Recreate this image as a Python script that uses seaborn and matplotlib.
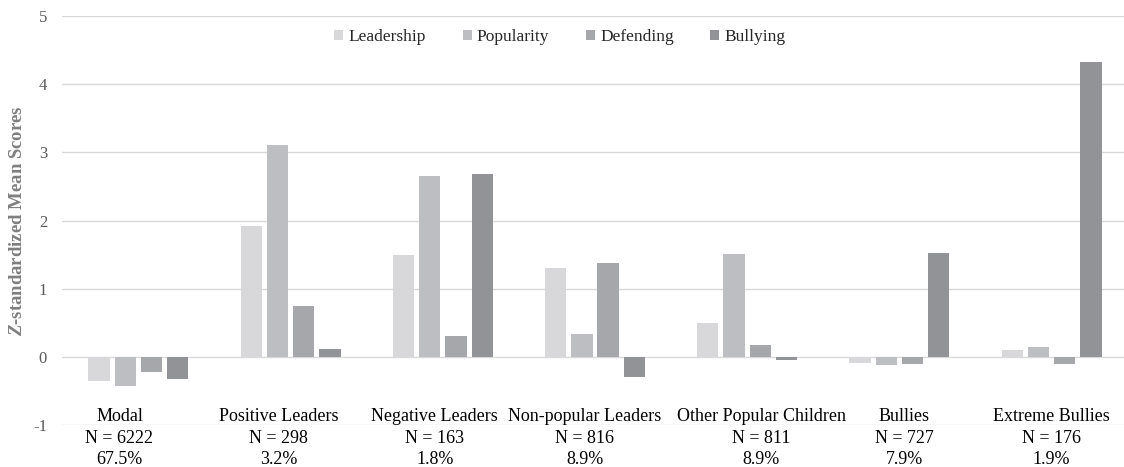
import matplotlib
matplotlib.use("Agg")
import matplotlib.pyplot as plt
import seaborn as sns
import pandas as pd
from matplotlib.transforms import offset_copy

categories = ["Modal", "Positive Leaders", "Negative Leaders", "Non-popular Leaders",
              "Other Popular Children", "Bullies", "Extreme Bullies"]
n_labels = ["N = 6222", "N = 298", "N = 163", "N = 816", "N = 811", "N = 727", "N = 176"]
pct_labels = ["67.5%", "3.2%", "1.8%", "8.9%", "8.9%", "7.9%", "1.9%"]
series = ["Leadership", "Popularity", "Defending", "Bullying"]
leadership = [-0.36, 1.92, 1.50, 1.30, 0.50, -0.09, 0.10]
popularity = [-0.43, 3.11, 2.65, 0.33, 1.51, -0.12, 0.14]
defending = [-0.22, 0.75, 0.31, 1.37, 0.18, -0.11, -0.11]
bullying = [-0.33, 0.11, 2.68, -0.29, -0.05, 1.52, 4.32]
y_ticks = [-1, 0, 1, 2, 3, 4, 5]
colors = ["#d8d8da", "#bdbec1", "#a6a7aa", "#929396"]

# horizontal nudges (in pixels) of the category label blocks, as in the original layout
label_nudge_px = [-19, -12, -8, -10, 14, 5, 0]

rows = []
for s, vals in zip(series, [leadership, popularity, defending, bullying]):
    for c, v in zip(categories, vals):
        rows.append({"Category": c, "Series": s, "Value": v})
df = pd.DataFrame(rows)

sns.set_theme(style="white")
plt.rcParams["font.family"] = ["Liberation Serif", "DejaVu Serif"]
plt.rcParams["mathtext.fontset"] = "custom"
plt.rcParams["mathtext.it"] = "Liberation Serif:italic:bold"
plt.rcParams["mathtext.rm"] = "Liberation Serif:bold"

W, H = 1124, 467
fig = plt.figure(figsize=(W / 100, H / 100), dpi=100)
left_px, right_px, top_px, bot_px = 62.4, 1127.6, 16, 425
ax = fig.add_axes([left_px / W, 1 - bot_px / H, (right_px - left_px) / W, (bot_px - top_px) / H])

ax.set_ylim(-1, 5)
ax.set_yticks(y_ticks)
for t in y_ticks:
    ax.axhline(t, color="#d9d9d9", lw=1.0, zorder=0)

sns.barplot(data=df, x="Category", y="Value", hue="Series", order=categories,
            hue_order=series, palette=colors, width=0.69, gap=0.19,
            ax=ax, zorder=2, legend=True, saturation=1, linewidth=0)

ax.set_xlim(-0.5, len(categories) - 0.5)
for s in ax.spines.values():
    s.set_visible(False)
ax.tick_params(axis="both", length=0)
ax.set_xticks([])
ax.set_xlabel("")
ax.set_yticklabels([str(t) for t in y_ticks], color="#595959", fontsize=12)
ax.tick_params(axis="y", pad=11)
ax.set_ylabel(r"$Z$-standardized Mean Scores", color="#7f7f7f", fontsize=13.5,
              fontweight="bold")
ax.yaxis.set_label_coords(-(left_px - 26) / (right_px - left_px), 0.5)

for i, (c, n, p) in enumerate(zip(categories, n_labels, pct_labels)):
    tr = offset_copy(ax.transData, fig=fig, x=label_nudge_px[i] * 0.72, y=0, units="points")
    ax.text(i, -0.88, c, ha="center", va="center", fontsize=13, color="#000000",
            transform=tr, clip_on=False)
    ax.text(i, -1.20, n, ha="center", va="center", fontsize=13, color="#000000",
            transform=tr, clip_on=False)
    ax.text(i, -1.51, p, ha="center", va="center", fontsize=13, color="#000000",
            transform=tr, clip_on=False)

leg = ax.legend(loc="center", bbox_to_anchor=(560 / W, 1 - 37 / H),
                bbox_transform=fig.transFigure, ncol=4, frameon=False,
                fontsize=12.5, handlelength=0.52, handleheight=0.52,
                handletextpad=0.3, columnspacing=2.1, title=None)

fig.savefig("out.png", dpi=100)
